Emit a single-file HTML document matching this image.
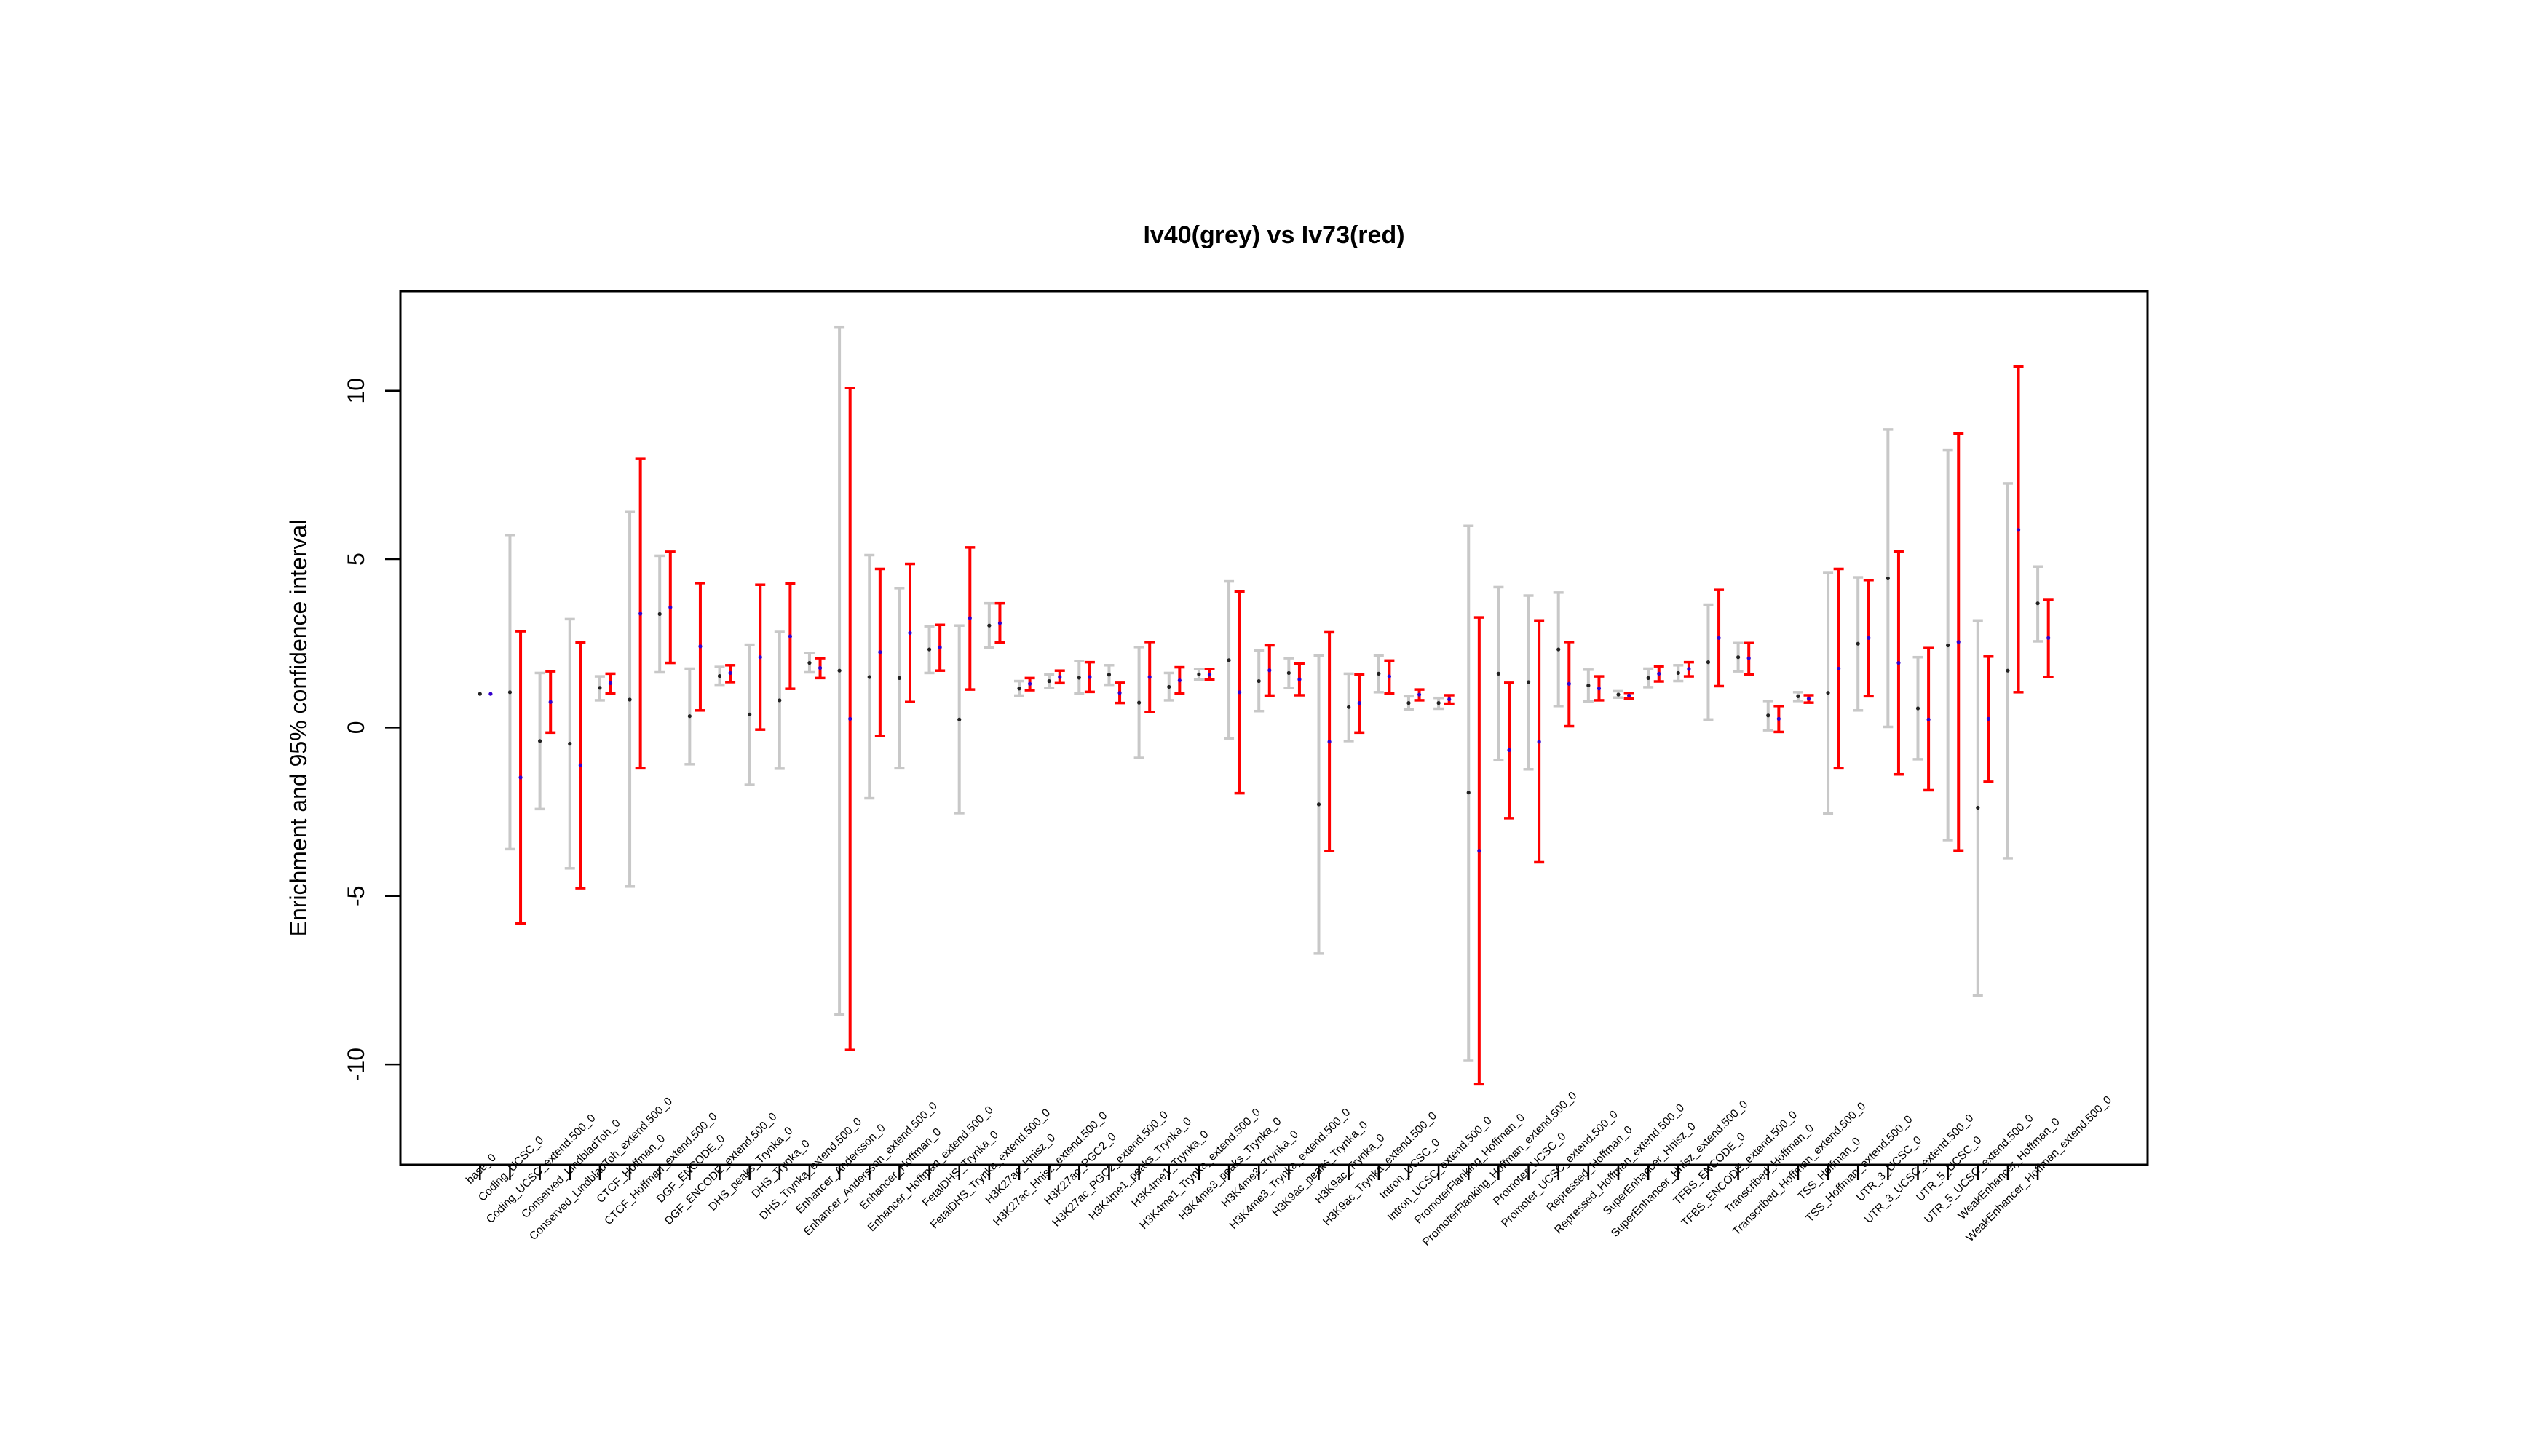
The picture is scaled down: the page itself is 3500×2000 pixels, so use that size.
<!DOCTYPE html>
<html><head><meta charset="utf-8"><style>
html,body{margin:0;padding:0;background:#fff;}
svg{display:block;font-family:"Liberation Sans",Arial,sans-serif;}
</style></head><body>
<svg id="chart" width="3500" height="2000" viewBox="0 0 3500 2000" xmlns="http://www.w3.org/2000/svg">
<rect x="0" y="0" width="3500" height="2000" fill="#fff"/>
<text x="1750" y="334" text-anchor="middle" font-size="34" font-weight="bold">Iv40(grey) vs Iv73(red)</text>
<text transform="translate(421,1000) rotate(-90)" text-anchor="middle" font-size="32">Enrichment and 95% confidence interval</text>
<g id="marks"></g>
<rect x="550" y="400" width="2400" height="1200" fill="none" stroke="#000" stroke-width="3"/>
</svg>
<script>
const categories = ["base_0","Coding_UCSC_0","Coding_UCSC_extend.500_0","Conserved_LindbladToh_0","Conserved_LindbladToh_extend.500_0","CTCF_Hoffman_0","CTCF_Hoffman_extend.500_0","DGF_ENCODE_0","DGF_ENCODE_extend.500_0","DHS_peaks_Trynka_0","DHS_Trynka_0","DHS_Trynka_extend.500_0","Enhancer_Andersson_0","Enhancer_Andersson_extend.500_0","Enhancer_Hoffman_0","Enhancer_Hoffman_extend.500_0","FetalDHS_Trynka_0","FetalDHS_Trynka_extend.500_0","H3K27ac_Hnisz_0","H3K27ac_Hnisz_extend.500_0","H3K27ac_PGC2_0","H3K27ac_PGC2_extend.500_0","H3K4me1_peaks_Trynka_0","H3K4me1_Trynka_0","H3K4me1_Trynka_extend.500_0","H3K4me3_peaks_Trynka_0","H3K4me3_Trynka_0","H3K4me3_Trynka_extend.500_0","H3K9ac_peaks_Trynka_0","H3K9ac_Trynka_0","H3K9ac_Trynka_extend.500_0","Intron_UCSC_0","Intron_UCSC_extend.500_0","PromoterFlanking_Hoffman_0","PromoterFlanking_Hoffman_extend.500_0","Promoter_UCSC_0","Promoter_UCSC_extend.500_0","Repressed_Hoffman_0","Repressed_Hoffman_extend.500_0","SuperEnhancer_Hnisz_0","SuperEnhancer_Hnisz_extend.500_0","TFBS_ENCODE_0","TFBS_ENCODE_extend.500_0","Transcribed_Hoffman_0","Transcribed_Hoffman_extend.500_0","TSS_Hoffman_0","TSS_Hoffman_extend.500_0","UTR_3_UCSC_0","UTR_3_UCSC_extend.500_0","UTR_5_UCSC_0","UTR_5_UCSC_extend.500_0","WeakEnhancer_Hoffman_0","WeakEnhancer_Hoffman_extend.500_0"];
const greyMid = [1,1.05,-0.40,-0.48,1.18,0.83,3.37,0.34,1.53,0.39,0.81,1.92,1.69,1.50,1.47,2.32,0.24,3.03,1.16,1.38,1.48,1.57,0.74,1.21,1.58,2.00,1.38,1.62,-2.28,0.61,1.60,0.73,0.73,-1.93,1.60,1.35,2.32,1.25,0.98,1.47,1.62,1.94,2.09,0.36,0.93,1.03,2.49,4.43,0.57,2.44,-2.38,1.69,3.69];
const greyLo = [1,-3.61,-2.42,-4.18,0.81,-4.72,1.64,-1.09,1.27,-1.70,-1.22,1.64,-8.52,-2.10,-1.21,1.62,-2.54,2.38,0.95,1.18,1.01,1.27,-0.90,0.81,1.43,-0.32,0.49,1.18,-6.71,-0.40,1.05,0.54,0.56,-9.89,-0.97,-1.24,0.64,0.78,0.89,1.20,1.38,0.24,1.67,-0.08,0.79,-2.55,0.51,0.02,-0.94,-3.34,-7.95,-3.88,2.56];
const greyHi = [1,5.72,1.62,3.22,1.52,6.40,5.10,1.75,1.80,2.46,2.84,2.21,11.88,5.12,4.14,3.01,3.03,3.69,1.38,1.58,1.97,1.85,2.39,1.62,1.74,4.34,2.29,2.06,2.14,1.60,2.14,0.93,0.88,5.99,4.17,3.92,4.01,1.72,1.08,1.75,1.85,3.65,2.51,0.79,1.05,4.59,4.46,8.85,2.09,8.23,3.18,7.25,4.78];
const redMid = [1,-1.48,0.76,-1.12,1.32,3.38,3.57,2.41,1.62,2.09,2.71,1.77,0.26,2.24,2.81,2.38,3.25,3.10,1.30,1.50,1.50,1.03,1.50,1.40,1.57,1.05,1.70,1.43,-0.42,0.73,1.52,0.98,0.84,-3.66,-0.67,-0.42,1.30,1.16,0.95,1.60,1.74,2.66,2.06,0.26,0.86,1.75,2.66,1.92,0.24,2.54,0.26,5.87,2.66];
const redLo = [1,-5.82,-0.15,-4.77,1.01,-1.21,1.92,0.51,1.35,-0.06,1.15,1.47,-9.57,-0.25,0.76,1.69,1.13,2.53,1.11,1.32,1.06,0.73,0.46,1.01,1.42,-1.95,0.95,0.96,-3.66,-0.15,1.01,0.81,0.71,-10.59,-2.69,-4.00,0.04,0.81,0.86,1.37,1.52,1.23,1.58,-0.13,0.74,-1.21,0.93,-1.39,-1.86,-3.65,-1.61,1.05,1.50];
const redHi = [1,2.86,1.67,2.53,1.60,7.98,5.22,4.29,1.85,4.24,4.28,2.06,10.08,4.71,4.86,3.05,5.35,3.69,1.47,1.69,1.94,1.33,2.54,1.79,1.74,4.04,2.44,1.90,2.83,1.58,1.99,1.13,0.96,3.27,1.33,3.18,2.54,1.52,1.03,1.82,1.94,4.09,2.51,0.64,0.96,4.71,4.38,5.23,2.36,8.73,2.11,10.72,3.79];
const yTicks = [-10,-5,0,5,10];

const NS = "http://www.w3.org/2000/svg";
const g = document.getElementById('marks');
function yS(v){ return 999.4 - v*46.27; }
function xS(i){ return 659.3 + i*41.15; }
function el(tag, attrs){ const e=document.createElementNS(NS,tag); for(const k in attrs) e.setAttribute(k, attrs[k]); g.appendChild(e); return e; }

yTicks.forEach(t=>{
  const tk = el('line',{x1:529,x2:550,y1:yS(t),y2:yS(t),stroke:'#000','stroke-width':2.5});
  
  
  const lb = el('text',{transform:`translate(500,${yS(t)}) rotate(-90)`,'text-anchor':'middle','font-size':32});
  lb.textContent = String(t);
  
  
});

categories.forEach((c,i)=>{
  const x = xS(i);
  const tk = el('line',{x1:x,x2:x,y1:1600,y2:1621,stroke:'#000','stroke-width':2.5});
  
  
  const lb = el('text',{transform:`translate(${x+2},1606) rotate(-45)`,'text-anchor':'middle','dominant-baseline':'middle','font-size':15.5});
  lb.textContent = c;
  
  
});

function bar(x, mid, lo, hi, color, dotColor, name){
  if (hi !== lo) {
    const v = el('line',{x1:x,x2:x,y1:yS(hi),y2:yS(lo),stroke:color,'stroke-width':4});
    
    
    [hi,lo].forEach(val=>{
      const cp = el('line',{x1:x-7,x2:x+7,y1:yS(val),y2:yS(val),stroke:color,'stroke-width':3.5});
      
      
    });
  }
  const d = el('circle',{cx:x,cy:yS(mid),r:2.6,fill:dotColor});
  
  
}
categories.forEach((c,i)=>{
  bar(xS(i), greyMid[i], greyLo[i], greyHi[i], '#c8c8c8', '#222', 'grey-'+c);
  bar(xS(i)+14.6, redMid[i], redLo[i], redHi[i], '#ff0000', '#3300cc', 'red-'+c);
});
</script>
</body></html>
